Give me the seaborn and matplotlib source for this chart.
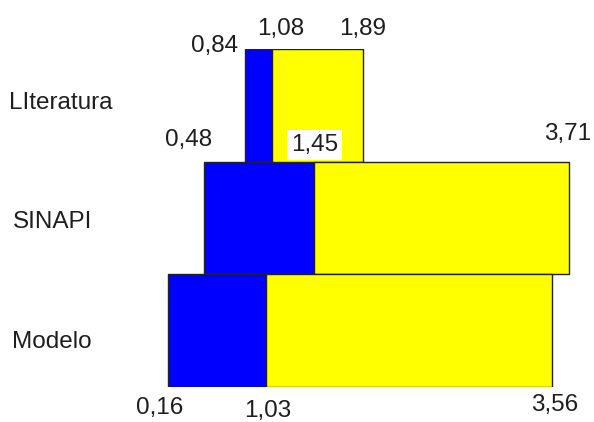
import matplotlib
matplotlib.use("Agg")
import matplotlib.pyplot as plt
import seaborn as sns

# ---- data ----
categories = ["LIteratura", "SINAPI", "Modelo"]
min_vals = [0.84, 0.48, 0.16]
mid_vals = [1.08, 1.45, 1.03]
max_vals = [1.89, 3.71, 3.56]
min_labels = ["0,84", "0,48", "0,16"]
mid_labels = ["1,08", "1,45", "1,03"]
max_labels = ["1,89", "3,71", "3,56"]

sns.set_theme(style="white")
plt.rcParams["font.family"] = ["Liberation Sans", "DejaVu Sans"]

fig = plt.figure(figsize=(5.94, 4.22), dpi=100)
ax = fig.add_axes([150 / 594, (422 - 387) / 422, 444 / 594, 338 / 422])

pos = list(range(len(categories)))
blue_w = [m - a for a, m in zip(min_vals, mid_vals)]
yel_w = [b - m for m, b in zip(mid_vals, max_vals)]
ax.barh(pos, blue_w, left=min_vals, height=1.0, color="#0000FF",
        edgecolor="#222222", linewidth=1.0, zorder=2)
ax.barh(pos, yel_w, left=mid_vals, height=1.0, color="#FFFF00",
        edgecolor="#222222", linewidth=1.0, zorder=2)

ax.set_xlim(0, 444 / 112.9)
ax.set_ylim(2.5, -0.5)
ax.set_xticks([])
ax.set_yticks([])
sns.despine(ax=ax, left=True, bottom=True)

txt = dict(fontsize=17.5, color="#1e1e1e", textcoords="offset pixels",
           annotation_clip=False, zorder=5)

# category labels
cat_px = [(-141, -2), (-137, 4), (-138, 11)]
for i, (c, (dx, dy)) in enumerate(zip(categories, cat_px)):
    ax.annotate(c, (0, i), xytext=(dx, -dy), ha="left", va="center", **txt)

# value labels: (dx, dy) offsets in pixels; dy positive = down
min_off = [(-7, -3, "right", "top"), (-16, -22, "center", "top"), (-8, 21, "center", "bottom")]
mid_off = [(9, -20, "center", "top"), (1, -17, "center", "top"), (1, 24, "center", "bottom")]
max_off = [(-1, -20, "center", "top"), (-1, -28, "center", "top"), (3, 18, "center", "bottom")]

for i in pos:
    for vals, labs, offs in ((min_vals, min_labels, min_off),
                             (mid_vals, mid_labels, mid_off),
                             (max_vals, max_labels, max_off)):
        dx, dy, ha, edge = offs[i]
        y = i - 0.5 if edge == "top" else i + 0.5
        kw = {}
        if labs is mid_labels and i == 1:
            kw["bbox"] = dict(facecolor="white", edgecolor="none", pad=3)
        ax.annotate(labs[i], (vals[i], y), xytext=(dx, -dy), ha=ha,
                    va="center", **txt, **kw)

fig.savefig("out.png", dpi=100)
